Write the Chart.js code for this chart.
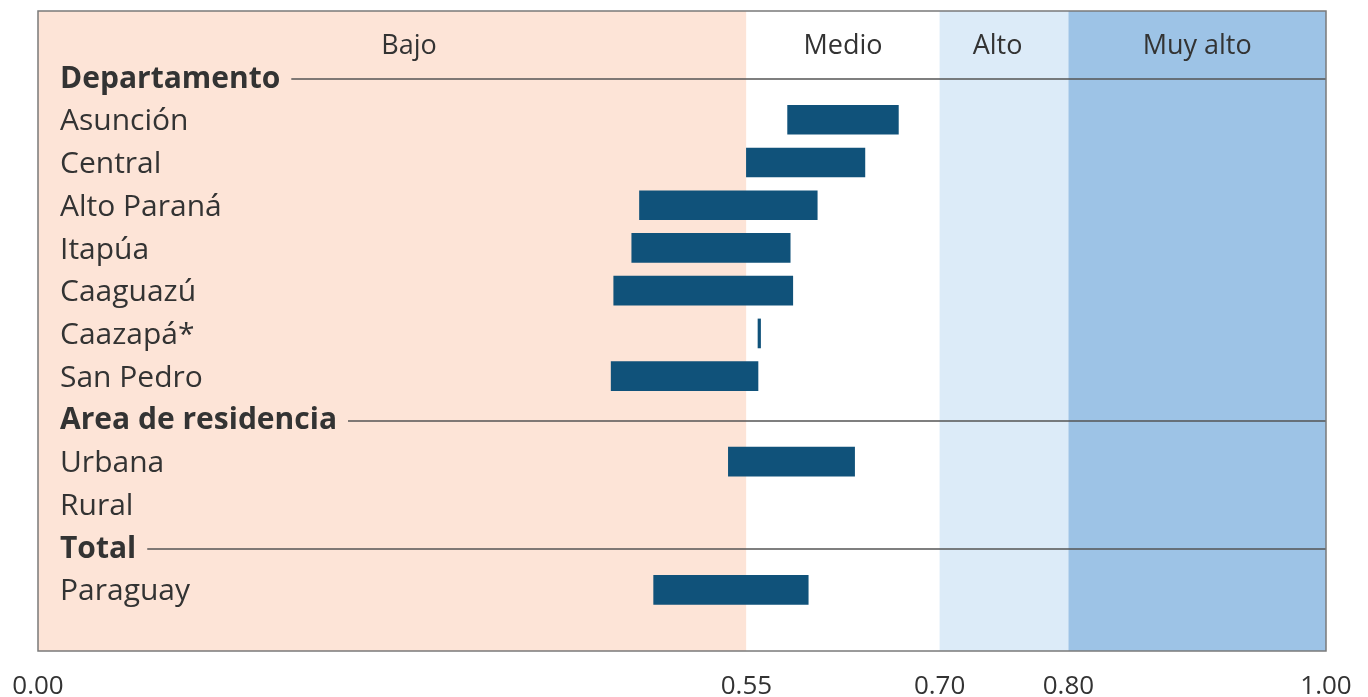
<!DOCTYPE html>
<html>
<head>
<meta charset="utf-8">
<script src="https://cdn.jsdelivr.net/npm/chart.js@4"></script>
<style>
  html, body { margin: 0; padding: 0; background: #ffffff; }
  #wrap { width: 1368px; height: 697px; }
</style>
</head>
<body>
<div id="wrap"><canvas id="c" width="1368" height="697"></canvas></div>
<script>
// ---- data ----
const rowLabels = ["Departamento", "Asunción", "Central", "Alto Paraná", "Itapúa", "Caaguazú", "Caazapá*", "San Pedro",
                   "Area de residencia", "Urbana", "Rural", "Total", "Paraguay"];
const headerRows = ["Departamento", "Area de residencia", "Total"];
const barRows  = ["Asunción", "Central", "Alto Paraná", "Itapúa", "Caaguazú", "Caazapá*", "San Pedro", "Urbana", "Paraguay"];
const barLow   = [0.582, 0.550, 0.467, 0.461, 0.447, 0.559, 0.445, 0.536, 0.478];
const barHigh  = [0.668, 0.642, 0.605, 0.584, 0.586, 0.561, 0.559, 0.634, 0.598];
const xTickValues = [0.00, 0.55, 0.70, 0.80, 1.00];
const bandNames  = ["Bajo", "Medio", "Alto", "Muy alto"];
const bandFrom   = [0.00, 0.55, 0.70, 0.80];
const bandTo     = [0.55, 0.70, 0.80, 1.00];
const bandColors = ["#FDE4D7", "#FFFFFF", "#DCEBF8", "#9DC3E6"];
const bandLabelX = [0.288, 0.625, 0.745, 0.90];

const FONT = "'Open Sans', 'Noto Sans', sans-serif";
const TEXT = "#333333";
const ROW_FONT_SIZE = 30;

const barData = barRows.map((r, i) => ({ y: rowLabels.indexOf(r), x: [barLow[i], barHigh[i]] }));

const bandsPlugin = {
  id: 'bands',
  beforeDraw(chart) {
    const { ctx, chartArea: a, scales: { x } } = chart;
    ctx.save();
    for (let i = 0; i < bandNames.length; i++) {
      const x0 = x.getPixelForValue(bandFrom[i]);
      const x1 = x.getPixelForValue(bandTo[i]);
      ctx.fillStyle = bandColors[i];
      ctx.fillRect(x0, a.top, x1 - x0, a.bottom - a.top);
    }
    ctx.restore();
  },
  afterDraw(chart) {
    const { ctx, chartArea: a, scales: { x, y } } = chart;
    ctx.save();
    // band labels
    ctx.fillStyle = TEXT;
    ctx.font = "normal 27px " + FONT;
    ctx.textAlign = 'center';
    ctx.textBaseline = 'middle';
    const yLab = y.getPixelForValue(-0.72);
    bandNames.forEach((n, i) => ctx.fillText(n, x.getPixelForValue(bandLabelX[i]), yLab));
    // header rule lines
    ctx.font = "bold " + ROW_FONT_SIZE + "px " + FONT;
    ctx.strokeStyle = "#555555";
    ctx.lineWidth = 1.5;
    headerRows.forEach(h => {
      const idx = rowLabels.indexOf(h);
      const w = ctx.measureText(h).width;
      const py = Math.round(y.getPixelForValue(idx)) + 2;
      ctx.beginPath();
      ctx.moveTo(a.left + 22 + w + 11, py);
      ctx.lineTo(a.right, py);
      ctx.stroke();
    });
    // frame
    ctx.strokeStyle = "#7a7a7a";
    ctx.lineWidth = 1.5;
    ctx.strokeRect(a.left, a.top, a.right - a.left, a.bottom - a.top);
    ctx.restore();
  }
};

const noPad = s => { s.paddingLeft = 0; s.paddingRight = 0; s.paddingTop = 0; s.paddingBottom = 0; };

new Chart(document.getElementById('c'), {
  type: 'bar',
  data: {
    datasets: [{
      data: barData,
      backgroundColor: "#10527A",
      borderWidth: 0,
      barThickness: 29
    }]
  },
  options: {
    indexAxis: 'y',
    responsive: false,
    animation: false,
    layout: { padding: { left: 38, right: 42, top: 11, bottom: 0 } },
    plugins: { legend: { display: false }, tooltip: { enabled: false } },
    scales: {
      x: {
        type: 'linear', min: 0, max: 1, offset: false,
        grid: { display: false, drawTicks: false },
        border: { display: false },
        afterBuildTicks: s => { s.ticks = xTickValues.map(v => ({ value: v })); },
        afterFit: s => { s.height = 46; noPad(s); },
        ticks: {
          autoSkip: false, maxRotation: 0, padding: 20,
          color: TEXT, font: { family: FONT, size: 26 },
          callback: v => Number(v).toFixed(2)
        }
      },
      y: {
        type: 'linear', reverse: true, min: -1.544, max: 13.43, offset: false,
        grid: { display: false, drawTicks: false, offset: false },
        border: { display: false },
        afterBuildTicks: s => { s.ticks = rowLabels.map((_, i) => ({ value: i })); },
        afterFit: s => { s.width = 0; noPad(s); },
        ticks: {
          mirror: true, padding: 22, autoSkip: false, color: TEXT, labelOffset: 2,
          font: ctx => ({ family: FONT, size: ROW_FONT_SIZE,
            weight: (ctx.tick && headerRows.includes(rowLabels[ctx.tick.value])) ? 'bold' : 'normal' }),
          callback: v => rowLabels[v]
        }
      }
    }
  },
  plugins: [bandsPlugin]
});
</script>
</body>
</html>
